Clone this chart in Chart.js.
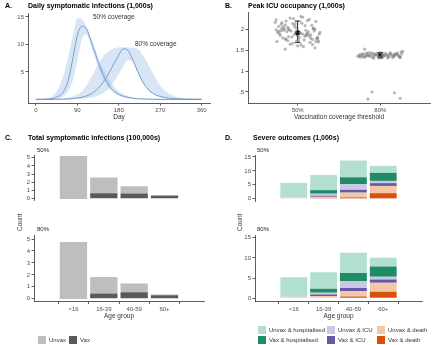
<!DOCTYPE html>
<html><head><meta charset="utf-8">
<script src="https://cdn.jsdelivr.net/npm/chart.js@4.4.1/dist/chart.umd.min.js"></script>
<style>
body{margin:0;background:#fff;}
#wrap{position:relative;width:440px;height:345px;overflow:hidden;background:#fff;font-family:'Liberation Sans',Arial,sans-serif;}
canvas{position:absolute;}
.t{position:absolute;white-space:nowrap;line-height:1;color:#1a1a1a;will-change:transform;-webkit-font-smoothing:antialiased;}
.ti{font-weight:bold;font-size:7px;color:#000;transform:translateZ(0);}
.an{font-size:6.5px;color:#333;}
.fc{font-size:6px;color:#1a1a1a;}
.lg{font-size:6px;color:#333;}
.sw{position:absolute;width:8px;height:8px;}
.rot{font-size:6.5px;color:#333;transform:rotate(-90deg);transform-origin:0 0;}
</style></head><body><div id="wrap">
<canvas id="cA" width="215" height="125" style="left:0;top:0"></canvas>
<canvas id="cB" width="220" height="125" style="left:220px;top:0"></canvas>
<canvas id="cC1" width="208" height="75" style="left:0;top:150px"></canvas>
<canvas id="cC2" width="208" height="92" style="left:0;top:230px"></canvas>
<canvas id="cD1" width="204" height="74" style="left:221px;top:150px"></canvas>
<canvas id="cD2" width="204" height="92" style="left:221px;top:230px"></canvas>

<div class="t ti" style="left:5px;top:2px">A.</div>
<div class="t ti" style="left:28px;top:2px">Daily symptomatic infections (1,000s)</div>
<div class="t ti" style="left:225px;top:2px">B.</div>
<div class="t ti" style="left:248px;top:2px">Peak ICU occupancy (1,000s)</div>
<div class="t ti" style="left:5px;top:134px">C.</div>
<div class="t ti" style="left:28px;top:134px">Total symptomatic infections (100,000s)</div>
<div class="t ti" style="left:225px;top:134px">D.</div>
<div class="t ti" style="left:253px;top:134px">Severe outcomes (1,000s)</div>

<div class="t an" style="left:93px;top:14px">50% coverage</div>
<div class="t an" style="left:135px;top:41px">80% coverage</div>

<div class="t fc" style="left:37px;top:147px">50%</div>
<div class="t fc" style="left:37px;top:226px">80%</div>
<div class="t fc" style="left:257px;top:147px">50%</div>
<div class="t fc" style="left:257px;top:226px">80%</div>
<div class="t rot" style="left:17px;top:231px">Count</div>
<div class="t rot" style="left:237px;top:231px">Count</div>

<div id="legC"></div>
<div id="legD"></div>
</div>
<script>
// ---------------- data ----------------
const days = [0,10,20,30,40,50,60,70,80,90,100,110,120,130,140,150,160,170,180,190,200,210,220,230,240,250,260,270,280,290,300,310,320,330,340,350,360];
const med50 = [0.02,0.03,0.05,0.1,0.25,0.6,1.4,3.4,7.3,11.6,13.3,12.8,10.6,8.1,5.7,3.8,2.4,1.5,0.95,0.6,0.38,0.24,0.15,0.1,0.07,0.05,0.04,0.03,0.02,0.02,0.02,0.02,0.02,0.02,0.02,0.02,0.02];
const hi50 = [0.05,0.08,0.15,0.35,0.9,2.2,4.4,7.6,11.4,14.8,14.6,13.2,11.1,8.9,6.7,4.9,3.4,2.3,1.5,0.95,0.62,0.4,0.26,0.17,0.12,0.09,0.07,0.06,0.05,0.05,0.05,0.05,0.05,0.05,0.05,0.05,0.05];
const lo50 = [0,0.01,0.02,0.04,0.1,0.25,0.6,1.5,3.4,7.0,10.9,11.8,9.6,7.2,4.9,3.1,1.9,1.1,0.65,0.38,0.22,0.13,0.08,0.05,0.03,0.02,0.01,0.01,0.01,0.01,0.01,0.01,0.01,0.01,0.01,0.01,0.01];
const med80 = [0.01,0.01,0.02,0.02,0.03,0.04,0.06,0.1,0.15,0.25,0.4,0.65,1.0,1.6,2.5,3.6,5.0,6.6,8.1,9.2,8.9,7.3,5.3,3.5,2.2,1.35,0.85,0.55,0.35,0.23,0.15,0.1,0.07,0.05,0.04,0.03,0.03];
const hi80 = [0.02,0.03,0.04,0.06,0.09,0.14,0.22,0.35,0.55,0.9,1.5,2.6,4.0,5.6,7.0,8.1,8.9,9.3,9.45,9.5,9.45,9.4,9.2,8.4,7.0,5.4,3.8,2.5,1.6,1.0,0.65,0.42,0.28,0.19,0.13,0.1,0.08];
const lo80 = [0,0,0.01,0.01,0.01,0.02,0.03,0.04,0.06,0.09,0.14,0.22,0.35,0.55,0.85,1.35,2.1,3.2,4.6,6.1,7.1,6.9,5.1,3.3,2.0,1.2,0.72,0.45,0.28,0.18,0.12,0.08,0.05,0.04,0.03,0.02,0.02];
const dayTicks = [0,90,180,270,360];
const infTicks = [5,10,15];

// Panel B: jittered simulation peaks (offset within group, value)
const coverageLabels = ['50%','80%'];
const x50 = [-0.26,-0.21,-0.17,-0.12,-0.08,-0.03,0.02,0.06,0.11,0.15,0.19,0.24,
 -0.24,-0.19,-0.14,-0.1,-0.05,0.0,0.04,0.09,0.13,0.18,0.22,0.26,
 -0.25,-0.2,-0.15,-0.11,-0.06,-0.02,0.03,0.08,0.12,0.16,0.21,0.25,
 -0.23,-0.18,-0.13,-0.09,-0.04,0.01,0.05,0.1,0.14,0.19,0.23,-0.27,
 -0.22,-0.16,-0.07,0.07,0.17,0.27,-0.01,-0.12,0.1,0.2,
 -0.2,-0.09,0.03,0.14,0.24,-0.26,-0.15,-0.04,0.06,0.18,
 -0.17,-0.06,0.09,0.22,-0.23,-0.11,0.0,0.12,0.25,-0.14,
 -0.15,0.04,0.16,-0.19,0.21,-0.02];
const y50 = [2.22,1.85,2.05,1.72,1.95,2.12,1.8,2.28,1.9,1.68,2.02,1.78,
 1.92,2.15,1.76,1.98,2.25,1.84,1.62,2.08,1.93,1.75,2.18,1.88,
 1.7,1.96,2.1,1.82,1.66,2.03,1.91,1.74,2.2,1.86,1.99,1.69,
 2.06,1.79,1.94,2.26,1.87,1.73,2.14,1.97,1.83,2.01,1.77,2.16,
 1.89,2.0,1.81,1.58,2.09,1.92,1.71,2.04,1.85,1.95,
 2.11,1.64,1.9,2.23,1.8,1.98,1.76,2.07,1.88,1.63,
 1.97,2.13,1.83,1.7,1.95,2.0,1.6,1.87,1.72,2.19,
 1.52,2.3,1.78,2.02,1.55,1.93];
const x80 = [-0.26,-0.22,-0.19,-0.15,-0.12,-0.08,-0.05,-0.01,0.03,0.06,0.1,0.13,0.17,0.2,0.24,0.27,
 -0.25,-0.21,-0.17,-0.14,-0.1,-0.07,-0.03,0.0,0.04,0.08,0.11,0.15,0.18,0.22,0.25,
 -0.24,-0.2,-0.16,-0.13,-0.09,-0.06,-0.02,0.02,0.05,0.09,0.12,0.16,0.19,0.23,0.26,
 -0.23,-0.18,-0.11,-0.04,0.01,0.07,0.14,0.21,-0.27,-0.15,-0.08,0.03,0.1,0.17,0.24,
 -0.19,-0.10,-0.15,0.17,0.24];
const y80 = [1.36,1.41,1.33,1.38,1.44,1.35,1.39,1.31,1.37,1.42,1.34,1.4,1.36,1.43,1.32,1.47,
 1.39,1.34,1.42,1.37,1.33,1.4,1.36,1.44,1.35,1.38,1.41,1.32,1.39,1.36,1.45,
 1.33,1.4,1.37,1.35,1.42,1.38,1.34,1.4,1.37,1.31,1.43,1.36,1.39,1.34,1.41,
 1.37,1.35,1.39,1.42,1.33,1.38,1.36,1.4,1.35,1.43,1.3,1.38,1.36,1.41,1.34,
 1.52,0.5,0.33,0.48,0.35];
const groupMean = [1.91,1.37];
const groupLow = [1.68,1.31];
const groupHigh = [2.19,1.44];
const icuTicks = [0.5,1,1.5,2];
const icuTickLabels = ['.5','1','1.5','2'];

// Panel C (100,000s)
const ageGroups = ['<16','16-39','40-59','60+'];
const c50Vax = [0.02,0.67,0.62,0.36];
const c50Unvax = [5.21,1.92,0.9,0.08];
const c80Vax = [0.02,0.44,0.55,0.29];
const c80Unvax = [4.73,1.39,0.72,0.06];
const cTicks = [0,1,2,3,4,5];

// Panel D (1,000s)
const d50VaxDeath = [0,0.1,0.5,2.0];
const d50UnvaxDeath = [0.2,0.6,1.7,2.6];
const d50VaxICU = [0,0.4,1.0,1.0];
const d50UnvaxICU = [0.2,0.7,2.0,0.8];
const d50VaxHosp = [0,1.3,2.5,2.9];
const d50UnvaxHosp = [5.3,5.4,6.0,2.5];
const d80VaxDeath = [0,0.1,0.45,1.6];
const d80UnvaxDeath = [0.3,0.45,1.3,2.25];
const d80VaxICU = [0,0.4,0.8,0.8];
const d80UnvaxICU = [0.2,0.4,1.7,0.7];
const d80VaxHosp = [0,1.0,2.0,2.5];
const d80UnvaxHosp = [4.7,4.1,5.0,2.2];
const dTicks = [0,5,10,15];

// ---------------- styling ----------------
Chart.defaults.font.family = "'Liberation Sans', Arial, sans-serif";
Chart.defaults.font.size = 6;
Chart.defaults.color = '#4d4d4d';
Chart.defaults.animation = false;
Chart.defaults.responsive = false;
Chart.defaults.devicePixelRatio = 1;
Chart.defaults.plugins.legend.display = false;
Chart.defaults.plugins.tooltip.enabled = false;

function axis(o) {
  return {
    type: 'linear', display: o.show !== false, min: o.min, max: o.max,
    stacked: !!o.stacked,
    afterBuildTicks: s => { s.ticks = o.ticks.map(v => ({value: v})); },
    afterFit: s => { if (s.isHorizontal()) s.height = o.size; else s.width = o.size; },
    ticks: { autoSkip: false, maxRotation: 0, padding: 1.5, color: '#4d4d4d', font: {size: 6},
      callback: v => { const i = o.ticks.indexOf(v); return o.labels ? o.labels[i] : String(v); } },
    grid: { display: true, drawOnChartArea: false, drawTicks: true, tickLength: 2.5, color: '#333', lineWidth: 0.8 },
    border: { display: true, color: '#333', width: 0.8 },
    title: o.title ? { display: true, text: o.title, color: '#333', font: {size: 6.5}, padding: {top: 0, bottom: o.tpad || 0} } : {display: false}
  };
}

// ---------------- Panel A ----------------
const pts = arr => days.map((d, i) => ({x: d, y: arr[i]}));
const ribbon = 'rgba(140,180,225,0.35)';
const lineCol = '#6a92c6';
const band = (arr, fill) => ({data: pts(arr), fill: fill, backgroundColor: ribbon, borderWidth: 0, pointRadius: 0, cubicInterpolationMode: 'monotone'});
const med = arr => ({data: pts(arr), fill: false, borderColor: lineCol, borderWidth: 1, pointRadius: 0, cubicInterpolationMode: 'monotone'});
new Chart(document.getElementById('cA'), {
  type: 'line',
  data: { datasets: [band(hi50, '+1'), band(lo50, false), med(med50), band(hi80, '+1'), band(lo80, false), med(med80)] },
  options: {
    layout: {padding: {top: 13, right: 5, left: 0, bottom: 0}},
    scales: {
      x: axis({min: -17, max: 378, ticks: dayTicks, size: 22, title: 'Day', tpad: 3.4}),
      y: axis({min: -0.64, max: 15.7, ticks: infTicks, size: 28})
    }
  }
});

// ---------------- Panel B ----------------
const grey = 'rgba(125,125,125,0.55)';
const errSeg = (x0, y0, x1, y1) => ({type: 'line', data: [{x: x0, y: y0}, {x: x1, y: y1}], borderColor: '#000', borderWidth: 0.9, pointRadius: 0, showLine: true, fill: false});
const bSets = [
  {data: x50.map((o, i) => ({x: 1 + o, y: y50[i]})), backgroundColor: grey, borderWidth: 0, pointRadius: 1.6},
  {data: x80.map((o, i) => ({x: 2 + o, y: y80[i]})), backgroundColor: grey, borderWidth: 0, pointRadius: 1.6}
];
groupMean.forEach((m, g) => {
  const gx = g + 1;
  bSets.push(errSeg(gx, groupLow[g], gx, groupHigh[g]));
  bSets.push(errSeg(gx - 0.035, groupLow[g], gx + 0.035, groupLow[g]));
  bSets.push(errSeg(gx - 0.035, groupHigh[g], gx + 0.035, groupHigh[g]));
});
bSets.push({data: groupMean.map((m, g) => ({x: g + 1, y: m})), backgroundColor: '#000', borderWidth: 0, pointRadius: 2.6});
new Chart(document.getElementById('cB'), {
  type: 'scatter',
  data: {datasets: bSets},
  options: {
    layout: {padding: {top: 12, right: 10, left: 0, bottom: 0}},
    scales: {
      x: axis({min: 0.4, max: 2.6, ticks: [1, 2], labels: coverageLabels, size: 22, title: 'Vaccination coverage threshold', tpad: 3.4}),
      y: axis({min: 0.238, max: 2.405, ticks: icuTicks, labels: icuTickLabels, size: 28})
    }
  }
});

// ---------------- Panels C & D ----------------
const ageX = [1, 2, 3, 4];
const barSet = (arr, col) => ({data: ageX.map((x, i) => ({x: x, y: arr[i]})), backgroundColor: col, borderWidth: 0, barPercentage: 0.9, categoryPercentage: 1});
function facet(id, sets, yo, showX, pad) {
  new Chart(document.getElementById(id), {
    type: 'bar',
    data: {datasets: sets},
    options: {
      layout: {padding: pad},
      scales: {
        x: axis({min: 0.4, max: 4.6, ticks: ageX, labels: ageGroups, size: 20.5, title: 'Age group', tpad: 1.6, show: showX, stacked: true}),
        y: Object.assign(axis(yo), {stacked: true})
      }
    }
  });
}
const cUnvaxCol = '#bebebe', cVaxCol = '#595959';
const cY = {min: -0.23, max: 5.33, ticks: cTicks, size: 34};
facet('cC1', [barSet(c50Vax, cVaxCol), barSet(c50Unvax, cUnvaxCol)], cY, false, {top: 5, bottom: 4, right: 4, left: 0});
facet('cC2', [barSet(c80Vax, cVaxCol), barSet(c80Unvax, cUnvaxCol)], cY, true, {top: 5, bottom: 0, right: 4, left: 0});

const dCols = {uh: '#b2dfce', vh: '#1e8c64', ui: '#cbc8e3', vi: '#6657a8', ud: '#f4c8a6', vd: '#d6520a'};
const dY = {min: -0.8, max: 15.65, ticks: dTicks, size: 34};
facet('cD1', [barSet(d50VaxDeath, dCols.vd), barSet(d50UnvaxDeath, dCols.ud), barSet(d50VaxICU, dCols.vi), barSet(d50UnvaxICU, dCols.ui), barSet(d50VaxHosp, dCols.vh), barSet(d50UnvaxHosp, dCols.uh)], dY, false, {top: 3.5, bottom: 2.5, right: 3, left: 0});
facet('cD2', [barSet(d80VaxDeath, dCols.vd), barSet(d80UnvaxDeath, dCols.ud), barSet(d80VaxICU, dCols.vi), barSet(d80UnvaxICU, dCols.ui), barSet(d80VaxHosp, dCols.vh), barSet(d80UnvaxHosp, dCols.uh)], dY, true, {top: 3.5, bottom: 0, right: 3, left: 0});

// ---------------- legends (HTML text) ----------------
function legendItem(parent, x, y, col, label) {
  const s = document.createElement('div'); s.className = 'sw';
  s.style.left = x + 'px'; s.style.top = y + 'px'; s.style.background = col; parent.appendChild(s);
  const t = document.createElement('div'); t.className = 't lg';
  t.style.left = (x + 11) + 'px'; t.style.top = (y + 1) + 'px'; t.textContent = label; parent.appendChild(t);
}
const legC = document.getElementById('legC');
legendItem(legC, 38, 336, cUnvaxCol, 'Unvax');
legendItem(legC, 69, 336, cVaxCol, 'Vax');
const legD = document.getElementById('legD');
const dLegend = [
  [258, 326, dCols.uh, 'Unvax & hospitalised'], [327, 326, dCols.ui, 'Unvax & ICU'], [377, 326, dCols.ud, 'Unvax & death'],
  [258, 336, dCols.vh, 'Vax & hospitalised'], [327, 336, dCols.vi, 'Vax & ICU'], [377, 336, dCols.vd, 'Vax & death']
];
dLegend.forEach(d => legendItem(legD, d[0], d[1], d[2], d[3]));
</script>
</body></html>
